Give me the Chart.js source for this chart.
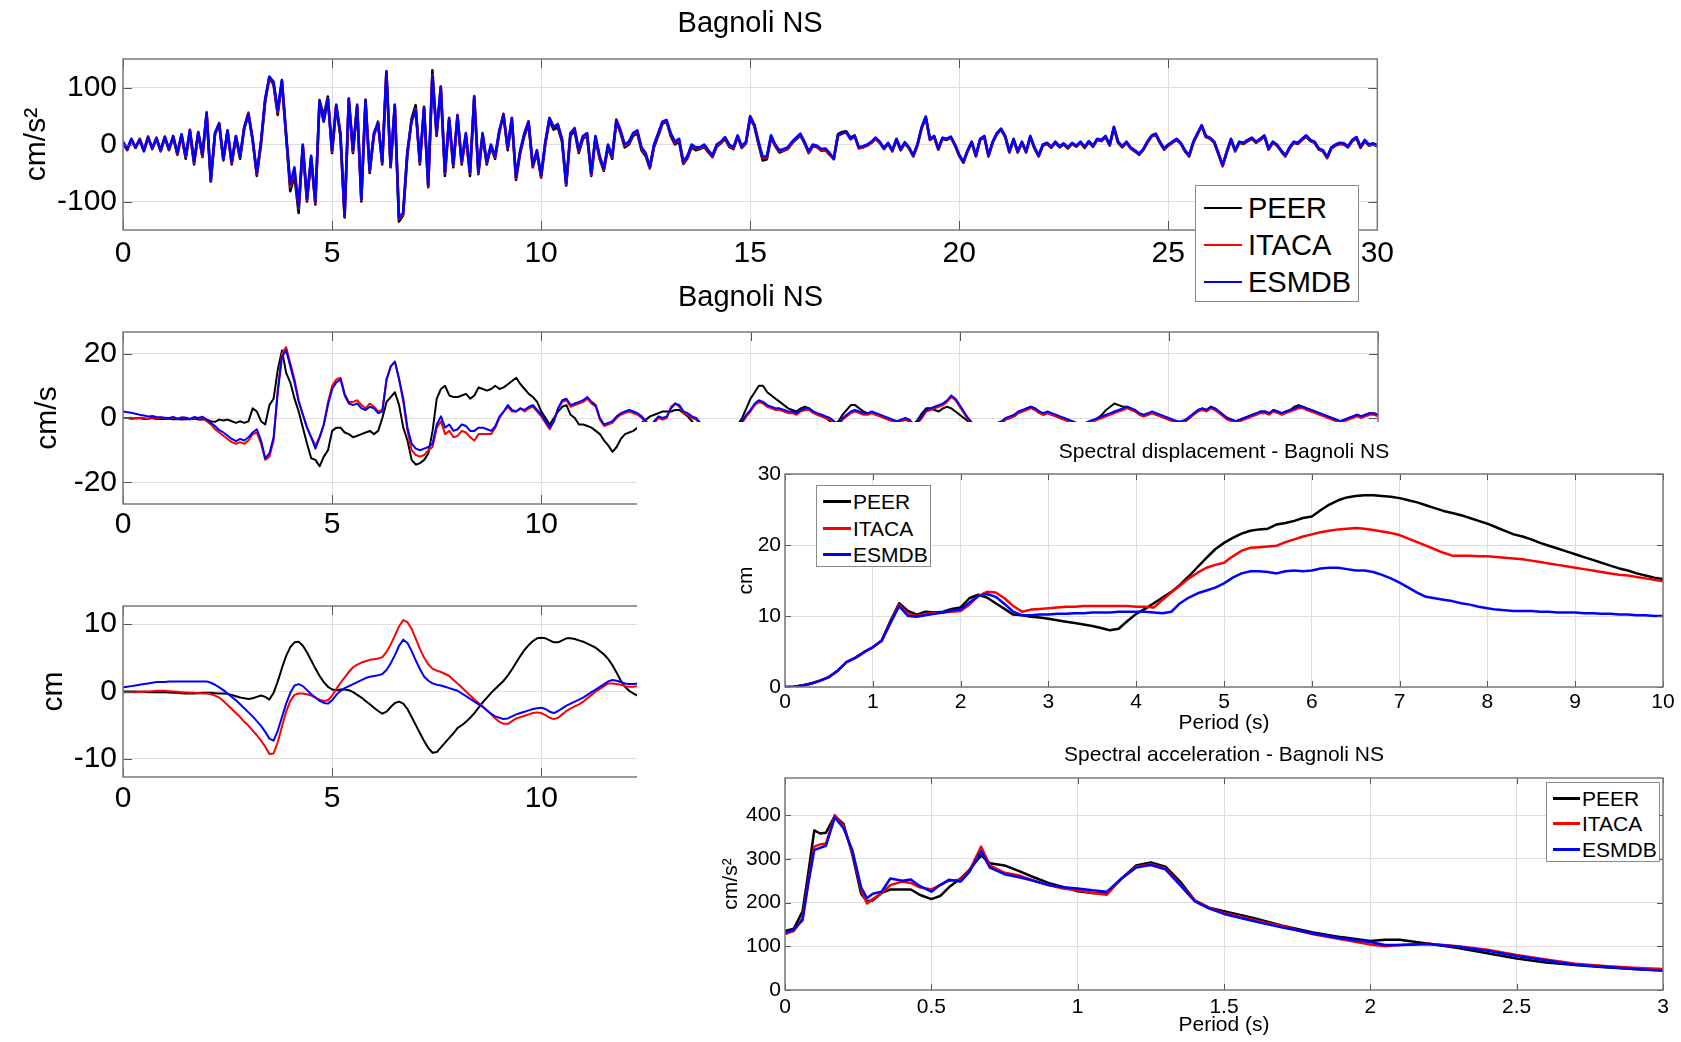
<!DOCTYPE html>
<html>
<head>
<meta charset="utf-8">
<title>Bagnoli NS</title>
<script src="https://cdn.jsdelivr.net/npm/chart.js@4.4.1/dist/chart.umd.min.js"></script>
<style>
  html, body { margin: 0; padding: 0; background: #fff; }
  #page { position: relative; width: 1681px; height: 1042px; overflow: hidden;
          font-family: "Liberation Sans", Arial, Helvetica, sans-serif; }
  .panel { position: absolute; }
  #cover { position: absolute; left: 637px; top: 422px; width: 1044px; height: 620px; background: #fff; }
  .legend { position: absolute; background: #fff; border: 1px solid #8a8a8a; box-sizing: border-box; color: #000; }
  .legend span { position: absolute; white-space: nowrap; }
  .legend i { position: absolute; display: block; }
</style>
</head>
<body>
<div id="page">
  <div class="panel" style="left:0;top:0;width:1400px;height:290px"><canvas id="cAcc"></canvas></div>
  <div class="panel" style="left:0;top:270px;width:1400px;height:294px"><canvas id="cVel"></canvas></div>
  <div class="panel" style="left:0;top:544px;width:1400px;height:293px"><canvas id="cDis"></canvas></div>
  <div id="cover"></div>
  <div class="panel" style="left:700px;top:430px;width:981px;height:307px"><canvas id="cSd"></canvas></div>
  <div class="panel" style="left:700px;top:733px;width:981px;height:309px"><canvas id="cSa"></canvas></div>
</div>
<script>
// records compared: PEER, ITACA, ESMDB
const seriesNames = ['PEER', 'ITACA', 'ESMDB'];
const seriesColors = ['#000000', '#ff0000', '#0000ff'];

// time histories, sampled every 0.1 s
const DT = 0.1;
const timeTicks = [0, 5, 10, 15, 20, 25, 30];

// acceleration (cm/s2), one row per second
const accPeer = [
  3, -10, 8, -6, 10, -10, 14, -8, 12, -12,
  12, -10, 13, -18, 16, -25, 22, -35, 20, -22,
  52, -65, 18, 35, -28, 22, -35, 12, -25, 28,
  52, 8, -55, 0, 75, 117, 105, 52, 110, 15,
  -82, -55, -120, -5, -100, -25, -105, 78, 50, 84,
  -15, 66, 15, -128, 76, -15, 65, -100, 75, -50,
  15, 40, -35, 125, -40, 66, -135, -124, -20, 45,
  69, -35, 66, -75, 130, 15, 98, -55, 42, -40,
  48, -35, 15, -55, 80, -52, 15, -35, -5, -25,
  20, 54, -10, 42, -62, -15, 15, 36, -40, -15,
  -58, 0, 42, 26, 30, 5, -72, 15, 24, -15,
  10, 15, -55, 10, -25, -46, -5, -25, 40, 20,
  -5, 0, 15, 20, -10, -20, -42, -5, 15, 36,
  40, 15, 0, 5, -34, -24, -5, -10, -8, -4,
  -14, -22, -4, 2, 10, -4, -8, 13, -6, 2,
  46, 32, 0, -28, -26, 12, -3, -14, -11, -8,
  2, 9, 16, 2, -15, -3, -5, -11, -10, -18,
  -24, 18, 22, 23, 12, 16, -6, -5, -2, 3,
  10, 3, -8, 1, -12, 8, -10, 2, -7, -21,
  -2, 28, 47, 8, 13, -9, 10, 8, 12, -2,
  -20, -32, -12, 3, -21, 8, 13, -21, 3, 18,
  26, 13, -14, 8, -14, 3, -14, 13, -7, -21,
  -2, 1, -6, 3, -5, 0, -7, 1, -4, 3,
  -6, 4, -4, 8, 6, 13, -2, 29, 3, -5,
  3, -7, -12, -18, -10, 3, 14, 17, 3, -9,
  -2, 3, 8, 1, -12, -21, 3, 18, 32, 13,
  10, 3, -17, -38, -14, 8, -12, 3, 1, 6,
  10, 3, 8, 14, -9, 3, -2, -12, -21, -7,
  3, 1, 8, 14, 6, 3, -9, -12, -24, -7,
  -2, 1, 0, -5, 6, 11, -6, 6, -2, 0,
  -3
];
const accItaca = [
  4, -9, 9, -5, 9, -11, 13, -7, 11, -11,
  13, -9, 14, -16, 17, -22, 26, -32, 21, -20,
  57, -63, 19, 38, -26, 24, -32, 14, -22, 31,
  56, 9, -52, 3, 78, 118, 108, 57, 112, 18,
  -74, -45, -112, -2, -97, -22, -102, 74, 42, 81,
  -12, 70, 18, -126, 81, -12, 70, -97, 79, -47,
  18, 38, -32, 129, -38, 70, -130, -122, -15, 41,
  62, -32, 64, -73, 122, 18, 102, -50, 47, -37,
  52, -32, 18, -50, 85, -50, 18, -32, -2, -22,
  23, 52, -7, 47, -59, -12, 18, 41, -38, -12,
  -56, 3, 47, 31, 36, 8, -70, 18, 29, -12,
  13, 18, -53, 13, -22, -44, -2, -22, 44, 23,
  -2, 3, 18, 23, -7, -17, -41, -2, 18, 38,
  42, 18, 3, 8, -32, -22, -2, -7, -7, -2,
  -12, -21, -2, 3, 12, -2, -7, 15, -5, 3,
  50, 34, 3, -24, -22, 15, -2, -12, -10, -7,
  3, 11, 18, 3, -14, -2, -4, -10, -9, -17,
  -26, 15, 19, 21, 9, 14, -7, -5, -2, 3,
  11, 4, -7, 2, -11, 9, -9, 3, -6, -20,
  -1, 29, 48, 9, 14, -8, 11, 9, 13, -1,
  -19, -31, -11, 4, -20, 9, 14, -20, 4, 19,
  27, 14, -13, 9, -13, 4, -13, 14, -6, -20,
  -1, 2, -5, 4, -4, 1, -6, 2, -3, 4,
  -5, 5, -3, 9, 7, 14, -1, 30, 4, -4,
  4, -6, -11, -17, -9, 4, 15, 18, 4, -8,
  -1, 4, 9, 2, -11, -20, 4, 19, 33, 14,
  11, 4, -16, -38, -13, 9, -11, 4, 2, 7,
  11, 4, 9, 15, -8, 4, -1, -11, -20, -6,
  4, 2, 9, 15, 7, 4, -8, -11, -23, -6,
  -1, 2, 1, -4, 7, 12, -5, 7, -1, 1,
  -2
];
const accEsmdb = [
  5, -8, 10, -5, 8, -12, 12, -6, 10, -10,
  14, -8, 15, -15, 18, -20, 25, -30, 22, -18,
  55, -62, 20, 37, -25, 25, -30, 15, -20, 30,
  54, 10, -50, 5, 80, 119, 110, 60, 113, 20,
  -70, -40, -110, 0, -95, -20, -100, 75, 40, 80,
  -10, 69, 20, -124, 80, -10, 69, -95, 78, -45,
  20, 37, -30, 128, -36, 69, -128, -120, -13, 40,
  60, -30, 63, -71, 120, 20, 101, -48, 46, -35,
  51, -30, 20, -48, 84, -48, 20, -30, 0, -20,
  25, 51, -5, 46, -57, -10, 20, 40, -36, -10,
  -54, 5, 46, 30, 35, 10, -68, 20, 28, -10,
  15, 20, -51, 15, -20, -42, 0, -20, 43, 25,
  0, 5, 20, 25, -5, -15, -39, 0, 20, 40,
  43, 20, 5, 10, -30, -20, 0, -5, -5, 0,
  -10, -19, 0, 5, 13, 0, -5, 16, -3, 5,
  49, 35, 5, -22, -20, 16, 0, -10, -8, -5,
  5, 12, 19, 5, -12, 0, -2, -8, -7, -15,
  -25, 16, 20, 22, 10, 15, -5, -3, 0, 5,
  12, 5, -6, 3, -10, 10, -8, 4, -5, -19,
  0, 30, 49, 10, 15, -7, 12, 10, 14, 0,
  -18, -30, -10, 5, -19, 10, 15, -19, 5, 20,
  28, 15, -12, 10, -12, 5, -12, 15, -5, -19,
  0, 3, -4, 5, -3, 2, -5, 3, -2, 5,
  -4, 6, -2, 10, 8, 15, 0, 31, 5, -3,
  5, -5, -10, -16, -8, 5, 16, 19, 5, -7,
  0, 5, 10, 3, -10, -19, 5, 20, 34, 15,
  12, 5, -15, -36, -12, 10, -10, 5, 3, 8,
  12, 5, 10, 16, -7, 5, 0, -10, -19, -5,
  5, 3, 10, 16, 8, 5, -7, -10, -22, -5,
  0, 3, 2, -3, 8, 13, -4, 8, 0, 2,
  -1
];

// velocity (cm/s)
const velPeer = [
  0, 0, -0.2, -0.1, 0, -0.3, -0.2, 0, -0.3, -0.2,
  -0.3, -0.2, -0.4, -0.3, -0.5, -0.3, -0.4, -0.2, -0.5, -0.4,
  -0.5, -1, -1.2, -0.5, -0.8, -0.5, -1, -1.5, -1, -1.5,
  -1, 3, 2, -1, -2, 4, 6, 15, 21, 14,
  11, 6, 2, -3, -8, -12.5, -13, -15, -12, -10,
  -4, -3, -3, -4.5, -5, -6, -5.5, -5, -4.5, -4,
  -5, -4, 0, 5, 6.5, 8, 4, -3, -7, -13,
  -14.5, -14, -13, -11, -4, 6, 9, 10, 7, 6.5,
  6.5, 7, 7.5, 6, 7, 9.5, 9, 8.5, 9, 10,
  9, 9.5, 10.5, 11.5, 12.5, 10.5, 9, 7.5, 6.5, 5,
  2, 0, -2, 0, 2, 3.5, 4, 1, 0, -2,
  -2, -2.5, -3, -4, -5, -7, -8.5, -10.5, -9, -6.5,
  -5, -4.5, -4, -3, -1.5, -0.5, 0.5, 1, 1.5, 2,
  2, 2, 2.5, 2.5, 1.5, 0.5, -1, -2.5, -4, -5,
  -6, -7, -7.5, -8, -7, -5.5, -4, -2, 0, 3,
  6, 8, 10, 10, 8, 7, 6, 5, 4, 3,
  2.5, 2, 3, 3.5, 3, 2, 1, 0.5, 0, -1,
  -2, -1, 1, 2.5, 4, 4, 3, 2, 1.5, 1.5,
  1, 0.5, 0, -0.5, -1, -1.5, -1, -0.5, -1, -2,
  -0.5, 1.5, 3, 3, 2.5, 2, 3, 3.5, 3, 2,
  1, 0, -1, -2, -3.5, -4.5, -4, -3, -2.5, -2,
  -1.5, -0.5, 0, 0.5, 1.5, 2, 3, 3.5, 3, 2,
  1, 1.5, 1, 0.5, 0, -0.5, -1, -1.5, -2, -2.5,
  -2, -1.5, -1, 0, 1, 2.5, 3.5, 4.5, 4, 3.5,
  3.5, 3, 2, 1, 0.5, 1, 1.5, 1, 0.5, 0,
  -0.5, -1, -1.5, -1.5, -1, 0, 1.5, 2.5, 3, 2.5,
  3.5, 3, 2, 1, 0, -0.5, -1, -0.5, 0, 0.5,
  1, 1.5, 2, 2, 1.5, 2.5, 2, 1.5, 2, 2.5,
  3.5, 4, 3.5, 3, 2.5, 2, 1.5, 1, 0.5, 0,
  -0.5, -1, -0.5, 0, 0.5, 1, 0.5, 1, 1.5, 1.5,
  1
];
const velItaca = [
  0, 0, 0.1, -0.2, 0.1, 0, -0.2, 0.2, -0.1, 0.2,
  -0.1, -0.2, 0.1, -0.3, 0, 0.1, -0.4, 0.2, -0.2, 0,
  -1, -2, -3.5, -4.5, -5.5, -6.5, -7.5, -8, -7.5, -8,
  -7, -5, -4.5, -8, -13, -12, -7, 9, 20, 22,
  17, 12, 5.5, 1, -3, -6, -8.5, -6, -2, 5,
  10, 12, 12.5, 7.5, 5, 5, 5.5, 4, 3, 4.5,
  3.5, 2, 2.5, 12, 16, 17.5, 12, 5, -4, -10,
  -11.5, -12, -11.5, -10, -9, -3, -1, -5, -4, -6,
  -5.5, -4, -4.5, -6, -7, -5, -5, -5, -5, -3,
  0, 2, 3.5, 2, 2, 3, 2, 3, 3.5, 2,
  0.5, -1.5, -3.5, -1, 3, 5, 5.5, 3.5, 4, 4.5,
  5, 6, 4.5, 3.5, -0.5, -2.5, -2, -1.5, 0, 1,
  1.5, 2, 1.5, 1, 0, -1.5, -3, -1.5, 0, -0.5,
  0, 3.5, 4.5, 3.5, 1.5, 1, 0, -0.5, -2, -3.5,
  -4.5, -5.5, -5.5, -6.5, -5.5, -4.5, -3.5, -2.5, -1.5, 0.5,
  2, 4, 5, 4.5, 3.5, 3, 2.5, 2.5, 2, 1.5,
  1.5, 1, 2, 2.5, 2.5, 1.5, 1, 0.5, 0, -0.5,
  -1.5, -2.5, -0.5, 0.5, 1.5, 2, 1.5, 1, 1, 1.5,
  1, 0.5, 0, -0.5, -1, -1.5, -1, -0.5, -1, -2.5,
  -1.5, 0, 2, 2.5, 3, 3.5, 4, 5, 6.5, 5.5,
  3.5, 1.5, -0.5, -2, -3.5, -4.5, -4, -3, -2.5, -2,
  -1.5, -0.5, 0, 0.5, 1.5, 2, 2.5, 3, 2.5, 1.5,
  1, 1.5, 1, 0.5, 0, -0.5, -1, -1.5, -2, -2.5,
  -2, -1.5, -1, -0.5, 0, 0.5, 1, 1.5, 2, 2.5,
  3, 2.5, 2, 1, 0.5, 1, 1.5, 1, 0.5, 0,
  -0.5, -1, -1.5, -1.5, -1, 0, 1, 2, 2.5, 2,
  3, 2.5, 1.5, 0.5, -0.5, -1, -1.5, -1, -0.5, 0,
  0.5, 1, 1.5, 1.5, 1, 2, 1.5, 1, 1.5, 2,
  2.5, 3, 3, 2.5, 2, 1.5, 1, 0.5, 0, -0.5,
  -1, -1.5, -1, -0.5, 0, 0.5, 0, 0.5, 1, 1,
  0.5
];
const velEsmdb = [
  2, 1.8, 1.6, 1.3, 1.0, 0.8, 0.5, 0.6, 0.3, 0.2,
  0.1, 0, 0.3, -0.2, 0.2, 0.1, -0.3, 0.3, 0, 0.4,
  -0.5, -1.5, -2.5, -3.8, -4.5, -5.5, -6.5, -7.2, -6.5, -7,
  -6, -4.5, -3.5, -7, -12.5, -11, -6, 8, 19, 21,
  16, 11, 5, 1, -3, -6, -9.5, -6, -2, 4,
  9, 11, 12, 7, 4.5, 4, 4.5, 3, 2.5, 3.5,
  3, 1.5, 2, 12, 16, 17.5, 12, 6, -3, -8,
  -9.5, -10, -9.5, -9, -8, -2, 0.5, -3, -2, -4,
  -3.5, -2, -2.5, -4, -4, -3, -3, -3.5, -4, -2.5,
  0.5, 2, 4, 2.5, 2, 3, 2.5, 3.5, 4, 2.5,
  1, -1, -3, -1, 3, 5.5, 6, 4, 4.5, 5,
  5.5, 6.5, 5, 4, 0, -2, -1.5, -1, 0.5, 1.5,
  2, 2.5, 2, 1.5, 0.5, -1, -2.5, -1, 0.5, 0,
  0.5, 3, 4.5, 4, 2, 1.5, 0.5, 0, -1.5, -3,
  -4, -5, -5, -6, -5, -4, -3, -2, -1, 1,
  2.5, 4.5, 5.5, 5, 4, 3.5, 3, 3, 2.5, 2,
  2, 1.5, 2.5, 3, 3, 2, 1.5, 1, 0.5, 0,
  -1, -2, 0, 1, 2, 2.5, 2, 1.5, 1.5, 2,
  1.5, 1, 0.5, 0, -0.5, -1, -0.5, 0, -0.5, -2,
  -1, 0.5, 2.5, 3, 3.5, 4, 4.5, 5.5, 7, 6,
  4, 2, 0, -1.5, -3, -4, -3.5, -2.5, -2, -1.5,
  -1, 0, 0.5, 1, 2, 2.5, 3, 3.5, 3, 2,
  1.5, 2, 1.5, 1, 0.5, 0, -0.5, -1, -1.5, -2,
  -1.5, -1, -0.5, 0, 0.5, 1, 1.5, 2, 2.5, 3,
  3.5, 3, 2.5, 1.5, 1, 1.5, 2, 1.5, 1, 0.5,
  0, -0.5, -1, -1, -0.5, 0.5, 1.5, 2.5, 3, 2.5,
  3.5, 3, 2, 1, 0, -0.5, -1, -0.5, 0, 0.5,
  1, 1.5, 2, 2, 1.5, 2.5, 2, 1.5, 2, 2.5,
  3, 3.5, 3.5, 3, 2.5, 2, 1.5, 1, 0.5, 0,
  -0.5, -1, -0.5, 0, 0.5, 1, 0.5, 1, 1.5, 1.5,
  1
];

// displacement (cm), first 12.4 s
const disPeer = [
  0, 0, 0, 0, -0.05, -0.05, -0.1, -0.1, -0.1, -0.1,
  -0.1, -0.15, -0.2, -0.2, -0.25, -0.3, -0.3, -0.3, -0.25, -0.2,
  -0.2, -0.2, -0.25, -0.3, -0.3, -0.35, -0.5, -0.7, -0.9, -1.0,
  -1.1, -1.0, -0.8, -0.6, -0.8, -1.2, -0.2, 1.5, 3.5, 5.3,
  6.6, 7.3, 7.4, 6.8, 5.8, 4.6, 3.4, 2.3, 1.4, 0.7,
  0.3, 0.2, 0.3, 0.3, 0.2, -0.1, -0.5, -0.9, -1.4, -1.9,
  -2.4, -2.9, -3.3, -3.0, -2.3, -1.7, -1.5, -1.8, -2.6, -3.8,
  -5.0, -6.2, -7.4, -8.4, -9.1, -9.0, -8.3, -7.6, -6.9, -6.2,
  -5.4, -5.0, -4.5, -3.9, -3.2, -2.4, -1.6, -0.9, -0.2, 0.4,
  1.0, 1.6, 2.4, 3.3, 4.3, 5.3, 6.2, 6.9, 7.5, 7.9,
  8.0, 7.9, 7.6, 7.3, 7.3, 7.6, 7.9, 7.9, 7.8, 7.6,
  7.4, 7.1, 6.8, 6.5, 6.0, 5.5, 4.8, 3.9, 2.8, 1.6,
  0.7, 0.1, -0.3, -0.6, -0.8
];
const disItaca = [
  -0.1, -0.1, -0.1, -0.1, -0.05, 0, 0, 0.05, 0.1, 0.1,
  0.1, 0.05, 0, -0.05, -0.1, -0.15, -0.2, -0.2, -0.25, -0.3,
  -0.3, -0.4, -0.6, -0.9, -1.4, -2.0, -2.6, -3.2, -3.8, -4.5,
  -5.1, -5.8, -6.5, -7.3, -8.2, -9.3, -9.2, -7.5, -5.2, -3.0,
  -1.4, -0.5, -0.3, -0.3, -0.4, -0.6, -0.9, -1.2, -1.4, -1.3,
  -0.6, 0.4, 1.3, 2.1, 2.9, 3.6, 4.0, 4.3, 4.5, 4.7,
  4.8, 4.9, 5.1, 5.9, 7.0, 8.3, 9.7, 10.6, 10.3, 9.3,
  7.8, 6.3, 5.0, 4.0, 3.4, 3.1, 2.9, 2.6, 2.3, 1.7,
  1.2, 0.6, 0, -0.6, -1.2, -1.7, -2.2, -2.8, -3.4, -4.0,
  -4.5, -4.8, -4.8, -4.4, -4.0, -3.8, -3.6, -3.4, -3.2, -3.1,
  -3.2, -3.5, -3.9, -4.1, -3.9, -3.4, -2.9, -2.5, -2.2, -1.9,
  -1.5, -1.0, -0.5, 0, 0.4, 0.8, 1.2, 1.2, 1.1, 1.0,
  0.8, 0.7, 0.7, 0.8, 0.8
];
const disEsmdb = [
  0.6, 0.7, 0.8, 0.9, 1.0, 1.1, 1.2, 1.3, 1.4, 1.4,
  1.4, 1.5, 1.5, 1.5, 1.5, 1.5, 1.5, 1.5, 1.5, 1.5,
  1.5, 1.3, 1.0, 0.6, 0.2, -0.3, -0.8, -1.3, -1.9, -2.5,
  -3.1, -3.7, -4.4, -5.1, -6.0, -7.0, -7.3, -5.8, -3.8, -1.8,
  -0.2, 0.9, 1.1, 0.8, 0.2, -0.4, -0.9, -1.4, -1.7, -1.8,
  -1.3, -0.5, 0.1, 0.5, 0.8, 1.1, 1.4, 1.7, 2.0, 2.2,
  2.3, 2.4, 2.6, 3.2, 4.2, 5.4, 6.8, 7.7, 7.2, 6.0,
  4.6, 3.3, 2.2, 1.6, 1.2, 1.0, 0.9, 0.7, 0.5, 0.3,
  0.1, -0.3, -0.7, -1.1, -1.5, -1.9, -2.3, -2.8, -3.3, -3.7,
  -3.9, -4.1, -4.0, -3.7, -3.4, -3.2, -3.0, -2.8, -2.6, -2.5,
  -2.4, -2.6, -3.0, -3.2, -2.9, -2.5, -2.1, -1.8, -1.5, -1.2,
  -0.9, -0.5, -0.1, 0.3, 0.7, 1.1, 1.5, 1.7, 1.6, 1.4,
  1.2, 1.1, 1.1, 1.2, 1.2
];

// spectral displacement (cm), periods 0..10 s every 0.1 s
const SD_DT = 0.1;
const sdPeriodTicks = [0, 1, 2, 3, 4, 5, 6, 7, 8, 9, 10];
const sdTicks = [0, 10, 20, 30];
const sdPeer = [
  0, 0.05, 0.2, 0.5, 0.9, 1.4, 2.3, 3.5, 4.1, 4.9,
  5.6, 6.5, 9.3, 11.8, 10.7, 10.2, 10.6, 10.5, 10.6, 11.0,
  11.2, 12.5, 13.0, 12.6, 11.8, 11.0, 10.2, 10.1, 9.9, 9.8,
  9.6, 9.4, 9.2, 9.0, 8.8, 8.6, 8.3, 8.0, 8.2, 9.3,
  10.3, 11.0, 11.8, 12.6, 13.4, 14.4, 15.6, 16.9, 18.2, 19.4,
  20.3, 21.0, 21.6, 22.0, 22.2, 22.3, 22.9, 23.1, 23.4, 23.8,
  24.0, 24.9, 25.7, 26.3, 26.7, 26.9, 27.0, 27.0, 26.9, 26.8,
  26.6, 26.3, 26.0, 25.6, 25.2, 24.8, 24.5, 24.2, 23.8, 23.4,
  23.0, 22.5, 22.0, 21.5, 21.2, 20.8, 20.3, 19.9, 19.5, 19.1,
  18.7, 18.3, 17.9, 17.5, 17.1, 16.7, 16.4, 16.0, 15.7, 15.4,
  15.2
];
const sdItaca = [
  0, 0.05, 0.2, 0.5, 0.9, 1.4, 2.3, 3.5, 4.1, 4.9,
  5.6, 6.5, 9.1, 11.6, 10.3, 10.0, 10.3, 10.4, 10.5, 10.6,
  10.7, 11.6, 12.8, 13.4, 13.3, 12.5, 11.4, 10.6, 10.9, 11.0,
  11.1, 11.2, 11.3, 11.3, 11.4, 11.4, 11.4, 11.4, 11.4, 11.4,
  11.3, 11.3, 11.2, 12.3, 13.3, 14.3, 15.3, 16.1, 16.8, 17.2,
  17.5, 18.4, 19.2, 19.6, 19.7, 19.8, 19.9, 20.4, 20.8, 21.2,
  21.5, 21.8, 22.0, 22.2, 22.3, 22.4, 22.3, 22.1, 21.9, 21.7,
  21.4, 20.9, 20.4, 19.9, 19.4, 18.9, 18.5, 18.5, 18.5, 18.4,
  18.4, 18.3, 18.2, 18.1, 18.0, 17.8, 17.6, 17.4, 17.2, 17.0,
  16.8, 16.6, 16.4, 16.2, 16.0, 15.8, 15.7, 15.5, 15.3, 15.1,
  14.9
];
const sdEsmdb = [
  0, 0.05, 0.2, 0.5, 0.9, 1.4, 2.3, 3.5, 4.1, 4.9,
  5.6, 6.5, 9.0, 11.4, 10.0, 9.9, 10.1, 10.3, 10.5, 10.8,
  10.9, 11.9, 12.8, 13.1, 12.7, 11.7, 10.6, 10.1, 10.1, 10.2,
  10.2, 10.3, 10.3, 10.4, 10.4, 10.5, 10.5, 10.5, 10.6, 10.6,
  10.6, 10.6, 10.5, 10.4, 10.6, 11.8, 12.6, 13.2, 13.6, 14.0,
  14.6, 15.4, 16.0, 16.3, 16.3, 16.2, 16.0, 16.3, 16.4, 16.3,
  16.4, 16.7, 16.8, 16.8, 16.6, 16.4, 16.4, 16.2, 15.8, 15.3,
  14.7, 14.0, 13.3, 12.7, 12.5, 12.3, 12.1, 11.8, 11.6, 11.3,
  11.1, 10.9, 10.8, 10.7, 10.7, 10.7, 10.6, 10.6, 10.5, 10.5,
  10.5, 10.4, 10.4, 10.3, 10.3, 10.2, 10.2, 10.1, 10.1, 10.0,
  10.0
];

// spectral acceleration (cm/s2)
const saPeriod = [
  0, 0.03, 0.06, 0.08, 0.1, 0.12, 0.14, 0.17, 0.2, 0.23,
  0.26, 0.28, 0.3, 0.33, 0.36, 0.4, 0.43, 0.46, 0.5, 0.53,
  0.56, 0.6, 0.63, 0.67, 0.7, 0.75, 0.8, 0.85, 0.9, 0.95,
  1.0, 1.05, 1.1, 1.15, 1.2, 1.25, 1.3, 1.35, 1.4, 1.45,
  1.5, 1.6, 1.7, 1.8, 1.9, 2.0, 2.05, 2.1, 2.2, 2.3,
  2.4, 2.5, 2.6, 2.7, 2.8, 2.9, 3.0
];
const saPeriodTicks = [0, 0.5, 1, 1.5, 2, 2.5, 3];
const saTicks = [0, 100, 200, 300, 400];
const saPeer = [
  135, 140, 180, 270, 365, 358, 360, 398, 380, 310,
  220, 203, 205, 222, 230, 230, 230, 218, 208, 215,
  235, 255, 275, 308, 290, 285, 272, 258, 245, 236,
  226, 222, 222, 255, 285, 292, 282, 248, 205, 188,
  180, 165, 147, 132, 121, 112, 115, 115, 106, 96,
  84, 72, 63, 57, 52, 48, 45
];
const saItaca = [
  128, 135, 165, 250, 328, 333, 335, 400, 375, 315,
  230, 198, 208, 222, 240, 248, 245, 235, 230, 240,
  250, 252, 272, 328, 285, 268, 262, 250, 240, 232,
  228, 222, 218, 255, 282, 288, 278, 242, 205, 188,
  176, 160, 146, 128, 116, 104, 100, 103, 106, 100,
  92, 80, 70, 60, 55, 51, 48
];
const saEsmdb = [
  130, 138, 160, 245, 320, 325, 330, 395, 370, 320,
  235, 210, 220, 225, 255, 250, 253, 238, 225, 240,
  252, 248, 270, 318, 280, 265, 258, 250, 240, 235,
  232, 228, 225, 255, 280, 286, 276, 240, 203, 186,
  174, 158, 143, 130, 118, 110, 103, 103, 105, 99,
  90, 78, 68, 58, 53, 48, 44
];

const FONT = '"Liberation Sans", Arial, Helvetica, sans-serif';
Chart.defaults.font.family = FONT;
Chart.defaults.color = '#000';
const GRID = '#dedede';

// axes box with inward tick marks on all four sides
const framePlugin = {
  id: 'frame',
  afterDatasetsDraw(chart, args, opts) {
    const { ctx, chartArea: a, scales: { x, y } } = chart;
    const t = opts.tick || 8;
    ctx.save();
    ctx.strokeStyle = '#555';
    ctx.lineWidth = 1;
    ctx.beginPath();
    x.ticks.forEach(tk => {
      const px = Math.round(x.getPixelForValue(tk.value)) + 0.5;
      ctx.moveTo(px, a.bottom); ctx.lineTo(px, a.bottom - t);
      ctx.moveTo(px, a.top); ctx.lineTo(px, a.top + t);
    });
    y.ticks.forEach(tk => {
      const py = Math.round(y.getPixelForValue(tk.value)) + 0.5;
      ctx.moveTo(a.left, py); ctx.lineTo(a.left + t, py);
      ctx.moveTo(a.right, py); ctx.lineTo(a.right - t, py);
    });
    ctx.stroke();
    ctx.strokeStyle = '#7a7a7a';
    ctx.lineWidth = 1.5;
    ctx.strokeRect(a.left, a.top, a.right - a.left, a.bottom - a.top);
    ctx.restore();
  }
};
Chart.register(framePlugin);

function points(xs, ys) {
  return ys.map((v, i) => ({ x: xs[i], y: v }));
}

// plain tick text: 1 rather than 1.0
const plainTick = v => String(v);

function makePanel(id, o) {
  const datasets = o.ys.map((ys, k) => ({
    label: seriesNames[k],
    data: points(o.x, ys),
    borderColor: seriesColors[k],
    borderWidth: o.lineWidth,
    pointRadius: 0,
    tension: 0,
    borderJoinStyle: 'round',
    order: 3 - k
  }));
  return new Chart(document.getElementById(id), {
    type: 'line',
    data: { datasets },
    options: {
      responsive: true,
      maintainAspectRatio: false,
      animation: false,
      events: [],
      layout: { padding: { left: 0, right: o.padRight, top: 0, bottom: 0 } },
      plugins: {
        legend: { display: false },
        tooltip: { enabled: false },
        title: {
          display: true, text: o.title, fullSize: false, color: '#000',
          font: { size: o.titleSize, weight: 'normal' },
          padding: o.titlePad
        },
        frame: { tick: o.tickLen }
      },
      scales: {
        x: {
          type: 'linear', min: o.xRange[0], max: o.xRange[1],
          afterBuildTicks: s => { s.ticks = o.xTicks.map(v => ({ value: v })); },
          afterFit: s => { s.height = o.xAxisH; },
          grid: { color: GRID, drawTicks: false },
          border: { display: false },
          ticks: { font: { size: o.tickSize }, padding: o.xTickPad, maxRotation: 0, autoSkip: false, callback: plainTick },
          title: o.xTitle
            ? { display: true, text: o.xTitle, font: { size: o.labelSize }, padding: { top: 0, bottom: o.xTitlePad } }
            : { display: false }
        },
        y: {
          type: 'linear', min: o.yRange[0], max: o.yRange[1],
          afterBuildTicks: s => { s.ticks = o.yTicks.map(v => ({ value: v })); },
          afterFit: s => { s.width = o.yAxisW; },
          grid: { color: GRID, drawTicks: false },
          border: { display: false },
          ticks: { font: { size: o.tickSize }, padding: o.yTickPad, autoSkip: false, callback: plainTick },
          title: { display: true, text: o.yTitle, font: { size: o.labelSize }, padding: { top: o.yTitlePad, bottom: 0 } }
        }
      }
    }
  });
}

const accTime = accEsmdb.map((_, i) => i * DT);
const disTime = disEsmdb.map((_, i) => i * DT);
const sdPeriod = sdEsmdb.map((_, i) => i * SD_DT);

const histBase = {
  title: 'Bagnoli NS', titleSize: 29, tickSize: 30, labelSize: 30,
  padRight: 22, yAxisW: 123, xAxisH: 60, xRange: [0, 30], xTicks: timeTicks,
  tickLen: 9, yTickPad: 6, lineWidth: 2
};

makePanel('cAcc', Object.assign({}, histBase, {
  x: accTime, ys: [accPeer, accItaca, accEsmdb], lineWidth: 2.6,
  yRange: [-150, 150], yTicks: [-100, 0, 100], yTitle: 'cm/s\u00b2', yTitlePad: 19,
  titlePad: { top: 6.6, bottom: 17.6 }, xTickPad: 6
}));
makePanel('cVel', Object.assign({}, histBase, {
  x: accTime, ys: [velPeer, velItaca, velEsmdb],
  yRange: [-26.7, 26.7], yTicks: [-20, 0, 20], yTitle: 'cm/s', yTitlePad: 30,
  titlePad: { top: 10.6, bottom: 16.6 }, xTickPad: 3
}));
makePanel('cDis', Object.assign({}, histBase, {
  x: disTime, ys: [disPeer, disItaca, disEsmdb],
  yRange: [-12.7, 12.7], yTicks: [-10, 0, 10], yTitle: 'cm', yTitlePad: 36,
  titlePad: { top: 10.6, bottom: 16.6 }, xTickPad: 4
}));

const specBase = {
  titleSize: 21, tickSize: 21, labelSize: 21, padRight: 18, yAxisW: 85,
  tickLen: 6, yTickPad: 4, lineWidth: 2.5, xTitle: 'Period (s)'
};
makePanel('cSd', Object.assign({}, specBase, {
  title: 'Spectral displacement - Bagnoli NS',
  x: sdPeriod, ys: [sdPeer, sdItaca, sdEsmdb],
  xRange: [0, 10], xTicks: sdPeriodTicks, yRange: [0, 30], yTicks: sdTicks,
  yTitle: 'cm', yTitlePad: 34, xAxisH: 50, xTickPad: 2.5, xTitlePad: 1.4,
  titlePad: { top: 9.4, bottom: 9.4 }
}));
makePanel('cSa', Object.assign({}, specBase, {
  title: 'Spectral acceleration - Bagnoli NS',
  x: saPeriod, ys: [saPeer, saItaca, saEsmdb],
  xRange: [0, 3], xTicks: saPeriodTicks, yRange: [0, 485], yTicks: saTicks,
  yTitle: 'cm/s\u00b2', yTitlePad: 19, xAxisH: 52, xTickPad: 4.4, xTitlePad: 4.4,
  titlePad: { top: 9.4, bottom: 10.4 }
}));

// legends
function makeLegend(g) {
  const box = document.createElement('div');
  box.className = 'legend';
  Object.assign(box.style, { left: g.left + 'px', top: g.top + 'px', width: g.w + 'px', height: g.h + 'px', fontSize: g.font + 'px' });
  seriesNames.forEach((name, k) => {
    const cy = g.rows[k] - g.top;
    const line = document.createElement('i');
    Object.assign(line.style, {
      left: (g.x0 - g.left) + 'px', width: (g.x1 - g.x0) + 'px',
      top: (cy - g.lw / 2) + 'px', height: g.lw + 'px', background: seriesColors[k]
    });
    const txt = document.createElement('span');
    txt.textContent = name;
    Object.assign(txt.style, { left: (g.tx - g.left) + 'px', top: (cy - g.font / 2) + 'px', lineHeight: g.font + 'px' });
    box.appendChild(line);
    box.appendChild(txt);
  });
  document.getElementById('page').appendChild(box);
}
makeLegend({ left: 1195, top: 185, w: 164, h: 117, font: 29, rows: [207, 244, 281], x0: 1203, x1: 1241, tx: 1247, lw: 1.5 });
makeLegend({ left: 816, top: 485, w: 115, h: 82, font: 21, rows: [500, 527, 553], x0: 822, x1: 850, tx: 852, lw: 3 });
makeLegend({ left: 1546, top: 782, w: 114, h: 80, font: 21, rows: [797, 822, 848], x0: 1552, x1: 1579, tx: 1581, lw: 3 });
</script>
</body>
</html>
